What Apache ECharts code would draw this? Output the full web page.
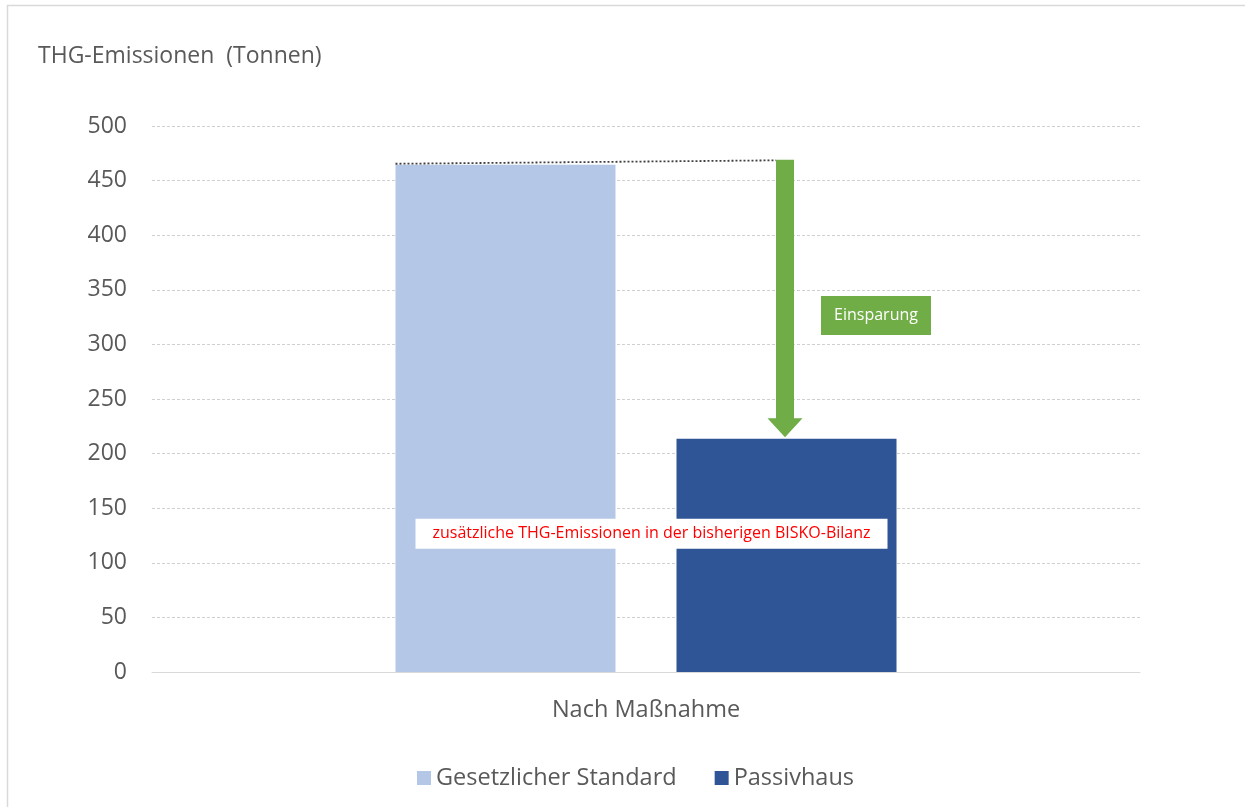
<!DOCTYPE html>
<html><head><meta charset="utf-8">
<script src="https://cdn.jsdelivr.net/npm/echarts@6/dist/echarts.min.js"></script>
<style>html,body{margin:0;padding:0;background:#fff}#c{width:1245px;height:807px}</style>
</head><body><div id="c"></div>
<script>
var categories = ['Nach Maßnahme'];
var seriesNames = ['Gesetzlicher Standard', 'Passivhaus'];
var standardValues = [464.5];
var passivValues = [213.5];
var yTicks = {min: 0, max: 500, interval: 50};
// annotation values (in Tonnen)
var arrowTop = [469];
var arrowTip = [215];
var savingLabelValue = [326.5];
var bilanzLabelValue = [126.5];
var savingText = 'Einsparung';
var bilanzText = 'zusätzliche THG-Emissionen in der bisherigen BISKO-Bilanz';

var FONT = '"Open Sans", "Noto Sans", sans-serif';
var chart = echarts.init(document.getElementById('c'));
var BW = 220, GAP = 61;

function renderAnno(params, api) {
  var c0 = api.coord([0, 0]);
  var cx = c0[0];
  var x1 = cx - GAP / 2 - BW;
  var ax = cx + GAP / 2 + BW / 2 - 1.5;
  var yBar1 = api.coord([0, standardValues[0]])[1];
  var yTop = api.coord([0, arrowTop[0]])[1];
  var yTip = api.coord([0, arrowTip[0]])[1];
  var yHead = yTip - 19;
  var ySave = api.coord([0, savingLabelValue[0]])[1];
  var yBil = api.coord([0, bilanzLabelValue[0]])[1];
  return {
    type: 'group',
    children: [
      {type: 'line', shape: {x1: x1, y1: yBar1 - 1, x2: ax - 9, y2: yTop + 0.5},
       style: {stroke: '#404040', lineWidth: 1.8, lineDash: [2, 2]}},
      {type: 'polygon', shape: {points: [
        [ax - 9, yTop], [ax + 9, yTop], [ax + 9, yHead], [ax + 17.5, yHead],
        [ax, yTip], [ax - 17.5, yHead], [ax - 9, yHead]]},
       style: {fill: '#70AD47'}},
      {type: 'rect', shape: {x: ax + 36, y: ySave - 19.5, width: 110, height: 39},
       style: {fill: '#70AD47'}},
      {type: 'text', style: {text: savingText, x: ax + 91, y: ySave, align: 'center', verticalAlign: 'middle',
        fill: '#ffffff', font: '16px ' + FONT}},
      {type: 'rect', shape: {x: x1 + 20, y: yBil - 15, width: 472, height: 30},
       style: {fill: '#ffffff'}},
      {type: 'text', style: {text: bilanzText, x: x1 + 256, y: yBil, align: 'center', verticalAlign: 'middle',
        fill: '#FF0000', font: '16px ' + FONT}}
    ]
  };
}

chart.setOption({
  animation: false,
  backgroundColor: '#fff',
  textStyle: {fontFamily: FONT},
  graphic: [
    {type: 'rect', shape: {x: 7.5, y: 5.5, width: 1260, height: 830}, style: {fill: 'none', stroke: '#d9d9d9', lineWidth: 1.5}, silent: true, z: -10},
    {type: 'text', left: 38, top: 45, style: {text: 'THG-Emissionen  (Tonnen)', fill: '#595959', font: '23px ' + FONT}}
  ],
  grid: {left: 152, right: 105, top: 126, bottom: 135},
  legend: {
    data: seriesNames, bottom: 12, left: 412, itemWidth: 14, itemHeight: 14, itemGap: 38,
    icon: 'rect', textStyle: {color: '#595959', fontSize: 23.5, fontFamily: FONT}
  },
  xAxis: {
    type: 'category', data: categories,
    axisLine: {lineStyle: {color: '#d9d9d9'}}, axisTick: {show: false},
    axisLabel: {color: '#595959', fontSize: 23.5, margin: 26, fontFamily: FONT}
  },
  yAxis: {
    type: 'value', min: yTicks.min, max: yTicks.max, interval: yTicks.interval,
    axisLine: {show: false}, axisTick: {show: false},
    axisLabel: {color: '#595959', fontSize: 23, margin: 25, fontFamily: FONT},
    splitLine: {lineStyle: {color: '#d0d0d0', type: [3, 2], width: 1}}
  },
  series: [
    {name: seriesNames[0], type: 'bar', data: standardValues, barWidth: BW, barGap: (GAP / BW * 100) + '%',
     itemStyle: {color: '#B4C7E7'}},
    {name: seriesNames[1], type: 'bar', data: passivValues, barWidth: BW,
     itemStyle: {color: '#2F5597'}},
    {type: 'custom', data: [[0, 0]], renderItem: renderAnno, z: 10, silent: true}
  ]
});
</script></body></html>
